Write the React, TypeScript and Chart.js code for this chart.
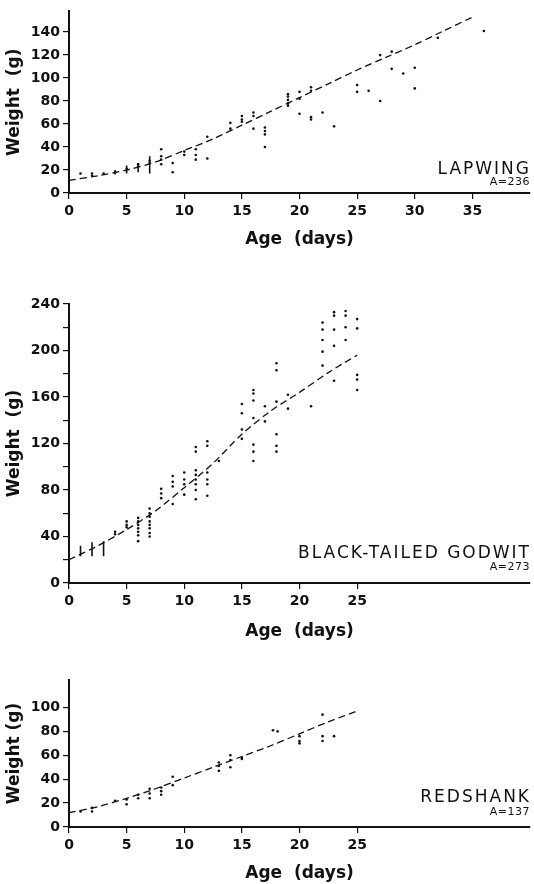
import { useEffect, useRef } from "react";
import { Chart, registerables } from "chart.js";

Chart.register(...registerables);

const FAMILY = "'DejaVu Sans', sans-serif";
const INK = "#111";

// ---------------- Data ----------------
// Lapwing
const lapwingCurve: [number, number][] = [
  [0, 11], [2.5, 15], [5, 20], [7.5, 27], [10, 37], [12.5, 47], [15, 59],
  [17.5, 71], [20, 83], [22.5, 95], [25, 107], [27.5, 118], [30, 129],
  [32.5, 141], [35, 153],
];
const lapwingRanges: [number, number, number][] = [
  [4, 16, 20], [5, 17, 24], [6, 18, 26], [7, 17, 32],
];
const lapwingPoints: [number, number][] = [
  [1, 17], [2, 17], [2, 15], [3, 17], [4, 18], [5, 21], [6, 23], [6, 25],
  [7, 26], [7, 28], [8, 38], [8, 32], [8, 29], [8, 25], [9, 26], [9, 18],
  [10, 36], [10, 33], [11, 38], [11, 33], [11, 29], [12, 49], [12, 30],
  [14, 61], [14, 56], [15, 67], [15, 64], [15, 62], [16, 70], [16, 67], [16, 56],
  [17, 57], [17, 54], [17, 51], [17, 40], [19, 86], [19, 84], [19, 81], [19, 78],
  [19, 76], [20, 88], [20, 82], [20, 69], [21, 92], [21, 89], [21, 66], [21, 64],
  [22, 70], [23, 58], [25, 94], [25, 88], [26, 89], [27, 120], [27, 80],
  [28, 123], [28, 108], [29, 104], [30, 109], [30, 91], [32, 135], [36, 141],
];

// Black-tailed Godwit
const godwitCurve: [number, number][] = [
  [0, 20], [2.5, 32], [5, 46], [7.5, 62], [10, 82], [12.5, 103], [15, 128],
  [17.5, 148], [20, 164], [22.5, 181], [25, 196],
];
const godwitRanges: [number, number, number][] = [
  [1, 23, 32], [2, 23, 35], [3, 23, 36],
];
const godwitPoints: [number, number][] = [
  [4, 42], [4, 44], [5, 48], [5, 50], [5, 53],
  [6, 56], [6, 53], [6, 50], [6, 47], [6, 44], [6, 41], [6, 36],
  [7, 64], [7, 60], [7, 57], [7, 53], [7, 50], [7, 47], [7, 43], [7, 40],
  [8, 81], [8, 77], [8, 73], [9, 92], [9, 87], [9, 83], [9, 68],
  [10, 95], [10, 89], [10, 85], [10, 76],
  [11, 117], [11, 113], [11, 97], [11, 93], [11, 89], [11, 85], [11, 80], [11, 72],
  [12, 122], [12, 118], [12, 95], [12, 89], [12, 85], [12, 75], [13, 105],
  [15, 154], [15, 146], [15, 132], [15, 124],
  [16, 166], [16, 163], [16, 157], [16, 142], [16, 119], [16, 113], [16, 105],
  [17, 152], [17, 139], [18, 189], [18, 183], [18, 156], [18, 128], [18, 118], [18, 113],
  [19, 162], [19, 150], [21, 152],
  [22, 224], [22, 218], [22, 209], [22, 199], [22, 187],
  [23, 233], [23, 230], [23, 218], [23, 204], [23, 174],
  [24, 234], [24, 230], [24, 220], [24, 209],
  [25, 227], [25, 219], [25, 179], [25, 175], [25, 166],
];

// Redshank
const redshankCurve: [number, number][] = [
  [0, 12], [2.5, 17], [5, 24], [7.5, 32], [10, 41], [12.5, 50], [15, 59],
  [17.5, 68], [20, 78], [22.5, 88], [25, 97],
];
const redshankRanges: [number, number, number][] = [];
const redshankPoints: [number, number][] = [
  [1, 13], [2, 16], [2, 13], [4, 22], [5, 23], [5, 19], [6, 27], [6, 24],
  [7, 32], [7, 28], [7, 24], [8, 33], [8, 30], [8, 27], [9, 42], [9, 35],
  [13, 54], [13, 51], [13, 47], [14, 60], [14, 56], [14, 50], [15, 58], [15, 57],
  [17.7, 81], [18.1, 80], [20, 76], [20, 72], [20, 70],
  [22, 94], [22, 76], [22, 72], [23, 76],
];

// ---------------- Panels ----------------
type Panel = {
  name: string;
  count: string;
  curve: [number, number][];
  ranges: [number, number, number][];
  points: [number, number][];
  yMax: number;
  yStep: number;
  yLabelStep: number;
  xTickMax: number;
  yTitle: string;
  top: number;
  height: number;
  padTop: number;
  xAxisH: number;
  nameOff: number;
  countOff: number;
};

const panels: Panel[] = [
  {
    name: "LAPWING", count: "A=236",
    curve: lapwingCurve, ranges: lapwingRanges, points: lapwingPoints,
    yMax: 158, yStep: 20, yLabelStep: 20, xTickMax: 35, yTitle: "Weight  (g)",
    top: 0, height: 250, padTop: 7, xAxisH: 57, nameOff: 19, countOff: 8,
  },
  {
    name: "BLACK-TAILED GODWIT", count: "A=273",
    curve: godwitCurve, ranges: godwitRanges, points: godwitPoints,
    yMax: 240, yStep: 20, yLabelStep: 40, xTickMax: 25, yTitle: "Weight  (g)",
    top: 285, height: 357, padTop: 19, xAxisH: 59, nameOff: 25, countOff: 13,
  },
  {
    name: "REDSHANK", count: "A=137",
    curve: redshankCurve, ranges: redshankRanges, points: redshankPoints,
    yMax: 123, yStep: 20, yLabelStep: 20, xTickMax: 25, yTitle: "Weight (g)",
    top: 660, height: 224, padTop: 20, xAxisH: 57, nameOff: 25, countOff: 12,
  },
];

function makeChart(canvas: HTMLCanvasElement, p: Panel) {
  const curveData = p.curve.map(([x, y]) => ({ x, y }));
  const pointData = p.points.map(([x, y]) => ({ x, y }));
  const rangeData: { x: number; y: number | null }[] = [];
  p.ranges.forEach(([x, lo, hi]) => {
    rangeData.push({ x, y: lo }, { x, y: hi }, { x, y: null });
  });

  const labelPlugin = {
    id: "speciesLabel",
    afterDraw(chart: any) {
      const { ctx, chartArea } = chart;
      ctx.save();
      ctx.fillStyle = INK;
      ctx.textAlign = "right";
      ctx.textBaseline = "alphabetic";
      ctx.font = `17px ${FAMILY}`;
      (ctx as any).letterSpacing = "2px";
      ctx.fillText(p.name, chartArea.right + 1, chartArea.bottom - p.nameOff);
      ctx.font = `11px ${FAMILY}`;
      (ctx as any).letterSpacing = "0.5px";
      ctx.fillText(p.count, chartArea.right, chartArea.bottom - p.countOff);
      ctx.restore();
    },
  };

  const tickFont = { family: FAMILY, size: 14, weight: "bold" as const };
  const titleFont = { family: FAMILY, size: 17, weight: "bold" as const };

  return new Chart(canvas, {
    type: "scatter",
    data: {
      datasets: [
        {
          type: "line",
          data: curveData,
          borderColor: INK,
          borderWidth: 1.3,
          borderDash: [7, 4],
          pointRadius: 0,
          tension: 0.3,
          fill: false,
        } as any,
        {
          type: "line",
          data: rangeData,
          borderColor: INK,
          borderWidth: 1.6,
          pointRadius: 0,
          spanGaps: false,
          fill: false,
        } as any,
        {
          data: pointData,
          pointRadius: 1.3,
          backgroundColor: INK,
          borderWidth: 0,
        },
      ],
    },
    options: {
      animation: false,
      responsive: false,
      events: [],
      layout: { padding: { top: p.padTop, right: 2, left: 0, bottom: 0 } },
      plugins: { legend: { display: false }, tooltip: { enabled: false } },
      scales: {
        x: {
          type: "linear",
          min: 0,
          max: 40,
          afterBuildTicks: (s: any) => {
            s.ticks = s.ticks.filter((t: any) => t.value <= p.xTickMax);
          },
          afterFit: (s: any) => {
            s.height = p.xAxisH;
          },
          ticks: {
            stepSize: 5,
            color: INK,
            font: tickFont,
            padding: 4,
            maxRotation: 0,
            autoSkip: false,
          },
          grid: {
            display: true,
            drawOnChartArea: false,
            drawTicks: true,
            tickLength: 6,
            color: INK,
            lineWidth: 1.2,
          },
          border: { display: true, color: INK, width: 2 },
          title: {
            display: true,
            text: "Age  (days)",
            color: INK,
            font: titleFont,
            padding: { top: 4, bottom: 0 },
          },
        },
        y: {
          type: "linear",
          min: 0,
          max: p.yMax,
          afterBuildTicks: (s: any) => {
            s.ticks = s.ticks.filter((t: any) => t.value % p.yStep === 0);
          },
          afterFit: (s: any) => {
            s.width = 69;
          },
          ticks: {
            stepSize: p.yStep,
            color: INK,
            font: tickFont,
            padding: 3,
            callback: (v: any) => (Number(v) % p.yLabelStep === 0 ? String(v) : ""),
          },
          grid: {
            display: true,
            drawOnChartArea: false,
            drawTicks: true,
            tickLength: 6,
            color: INK,
            lineWidth: 1.2,
          },
          border: { display: true, color: INK, width: 2 },
          title: {
            display: true,
            text: p.yTitle,
            color: INK,
            font: titleFont,
            padding: { top: 4, bottom: 0 },
          },
        },
      },
    },
    plugins: [labelPlugin],
  });
}

function PanelChart({ p }: { p: Panel }) {
  const ref = useRef<HTMLCanvasElement | null>(null);
  useEffect(() => {
    if (!ref.current) return;
    const chart = makeChart(ref.current, p);
    return () => chart.destroy();
  }, [p]);
  return (
    <canvas
      ref={ref}
      width={534}
      height={p.height}
      style={{ position: "absolute", left: 0, top: p.top, width: 534, height: p.height }}
    />
  );
}

export default function App() {
  return (
    <div
      style={{
        position: "absolute",
        left: 0,
        top: 0,
        width: 534,
        height: 884,
        background: "#fff",
        overflow: "hidden",
      }}
    >
      {panels.map((p) => (
        <PanelChart key={p.name} p={p} />
      ))}
    </div>
  );
}
